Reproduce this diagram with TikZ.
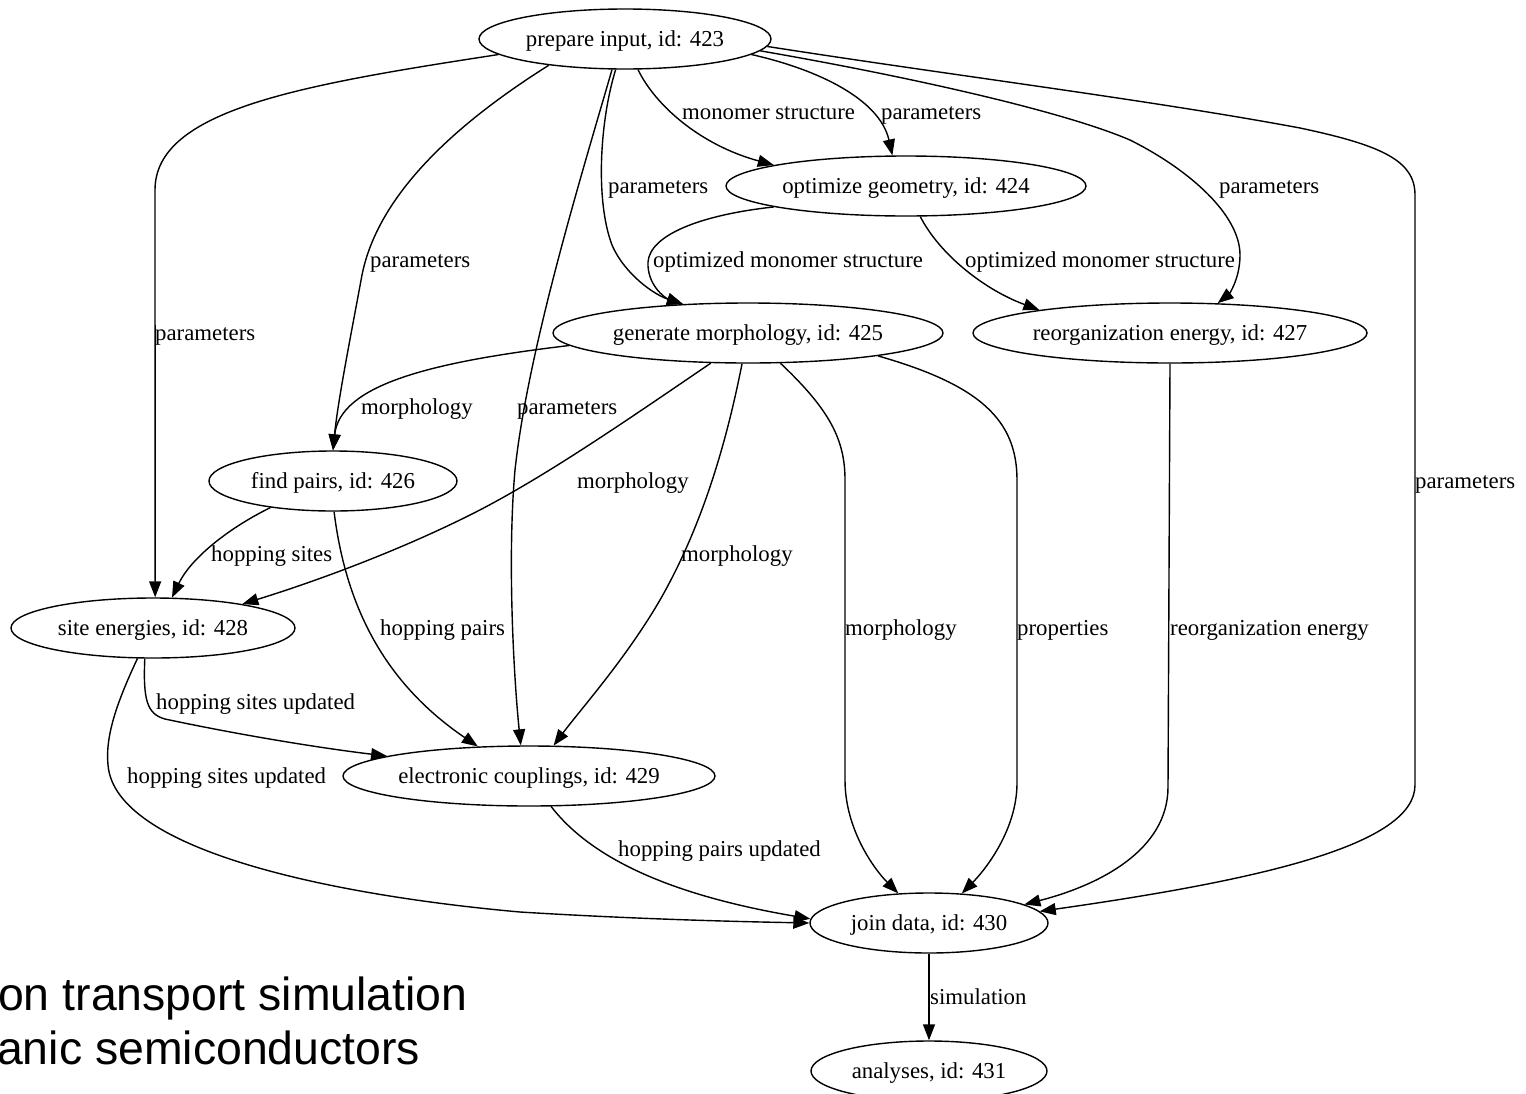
\documentclass[tikz,border=0pt]{standalone}
\usepackage{fontspec}
\setmainfont{Liberation Serif}
\newfontfamily\titlefont{Liberation Sans}
\usetikzlibrary{shapes.geometric,arrows.meta}

\tikzset{
  task/.style={ellipse, draw, line width=1.4pt, inner sep=0pt, minimum height=60pt,
    font=\fontsize{22.8}{27}\selectfont, text height=20pt, text depth=5pt},
  lbl/.style={anchor=west, inner sep=0pt,
    font=\fontsize{22.8}{27}\selectfont, text height=20pt, text depth=5pt},
  flow/.style={line width=1.4pt, -{Triangle[length=16pt,width=12pt]}},
  headline/.style={anchor=base west, inner sep=0pt, font=\titlefont\fontsize{46.4}{55}\selectfont},
}

\begin{document}
\begin{tikzpicture}[x=1pt,y=-1pt]
\useasboundingbox (0,0) rectangle (1526,1093);

% workflow steps
\node[task, minimum width=292pt] (A) at (625,39)   {prepare input, id: 423};
\node[task, minimum width=360pt] (B) at (906,186)  {optimize geometry, id: 424};
\node[task, minimum width=390pt] (C) at (748,333)  {generate morphology, id: 425};
\node[task, minimum width=394pt] (D) at (1170,333) {reorganization energy, id: 427};
\node[task, minimum width=248pt] (E) at (333,481)  {find pairs, id: 426};
\node[task, minimum width=284pt] (F) at (153,628)  {site energies, id: 428};
\node[task, minimum width=372pt] (G) at (529,776)  {electronic couplings, id: 429};
\node[task, minimum width=238pt] (H) at (929,923)  {join data, id: 430};
\node[task, minimum width=236pt] (I) at (929,1071) {analyses, id: 431};

% data flowing out of "prepare input"
\draw[flow] (A.-173) .. controls (300,85) and (155,110) .. (155,190) -- (F.86);
\draw[flow] (A.-161) .. controls (430,140) and (375,210) .. (362,275)
                     .. controls (350,340) and (338,400) .. (E.90);
\draw[flow] (A.-113) .. controls (580,180) and (528,350) .. (515,470)
                     .. controls (507,560) and (514,680) .. (G.105);
\draw[flow] (A.-107) .. controls (600,120) and (595,200) .. (612,245)
                     .. controls (625,275) and (655,295) .. (C.156);
\draw[flow] (A.-67) .. controls (655,105) and (700,145) .. (B.171);
\draw[flow] (A.-7) .. controls (820,70) and (880,100) .. (B.114);
\draw[flow] (A.-5) .. controls (900,75) and (1060,110) .. (1130,140)
                   .. controls (1190,170) and (1240,215) .. (1240,255)
                   .. controls (1240,280) and (1228,295) .. (D.32);
\draw[flow] (A.-3) .. controls (950,75) and (1150,100) .. (1300,128)
                   .. controls (1380,145) and (1415,160) .. (1415,195)
                   -- (1415,785) .. controls (1415,845) and (1260,880) .. (H.6);

% optimize geometry
\draw[flow] (B.-171) .. controls (700,215) and (650,235) .. (648,262)
                     .. controls (647,285) and (665,298) .. (C.156);
\draw[flow] (B.-65) .. controls (940,255) and (985,290) .. (D.170);

% reorganization energy
\draw[flow] (D.-90) -- (1168,787) .. controls (1168,850) and (1100,885) .. (H.11);

% generate morphology
\draw[flow] (C.-176) .. controls (430,362) and (340,385) .. (E.90);
\draw[flow] (C.-141) .. controls (620,425) and (540,480) .. (470,515)
                     .. controls (400,550) and (320,580) .. (F.15);
\draw[flow] (C.-101) .. controls (725,450) and (700,530) .. (660,600)
                     .. controls (625,660) and (580,710) .. (G.51);
\draw[flow] (C.-43) .. controls (830,410) and (845,440) .. (845,480)
                    -- (845,780) .. controls (845,830) and (875,870) .. (H.136);
\draw[flow] (C.-10) .. controls (980,385) and (1017,420) .. (1017,480)
                    -- (1017,783) .. controls (1017,830) and (985,870) .. (H.42);

% find pairs
\draw[flow] (E.-157) .. controls (225,530) and (190,560) .. (F.58);
\draw[flow] (E.-88) .. controls (345,600) and (380,680) .. (G.150);

% site energies
\draw[flow] (F.-105) .. controls (143,700) and (147,714) .. (165,719)
                     .. controls (240,735) and (320,748) .. (G.172);
\draw[flow] (F.-117) .. controls (118,700) and (105,735) .. (108,765)
                     .. controls (115,850) and (330,895) .. (520,912)
                     .. controls (650,920) and (760,922) .. (H.180);

% electronic couplings and join data
\draw[flow] (G.-54) .. controls (600,870) and (700,900) .. (H.178);
\draw[flow] (H.-90) -- (I.90);

% edge labels
\node[lbl] (t1)  at (155,333)  {parameters};
\node[lbl] (t2)  at (370,260)  {parameters};
\node[lbl] (t3)  at (517,407)  {parameters};
\node[lbl] (t4)  at (608,186)  {parameters};
\node[lbl] (t5)  at (682,112)  {monomer structure};
\node[lbl] (t6)  at (881,112)  {parameters};
\node[lbl] (t7)  at (1219,186) {parameters};
\node[lbl] (t8)  at (1415,481) {parameters};
\node[lbl] (t9)  at (653,260)  {optimized monomer structure};
\node[lbl] (t10) at (965,260)  {optimized monomer structure};
\node[lbl] (t11) at (1170,628) {reorganization energy};
\node[lbl] (t12) at (361,407)  {morphology};
\node[lbl] (t13) at (577,481)  {morphology};
\node[lbl] (t14) at (681,554)  {morphology};
\node[lbl] (t15) at (845,628)  {morphology};
\node[lbl] (t16) at (1017,628) {properties};
\node[lbl] (t17) at (211,554)  {hopping sites};
\node[lbl] (t18) at (380,628)  {hopping pairs};
\node[lbl] (t19) at (156,702)  {hopping sites updated};
\node[lbl] (t20) at (127,776)  {hopping sites updated};
\node[lbl] (t21) at (618,849)  {hopping pairs updated};
\node[lbl] (t22) at (930,997)  {simulation};

% caption text at the lower left
\node[headline] (h1) at (-2,1010) {on transport simulation};
\node[headline] (h2) at (-3,1064) {anic semiconductors};
\end{tikzpicture}
\end{document}
